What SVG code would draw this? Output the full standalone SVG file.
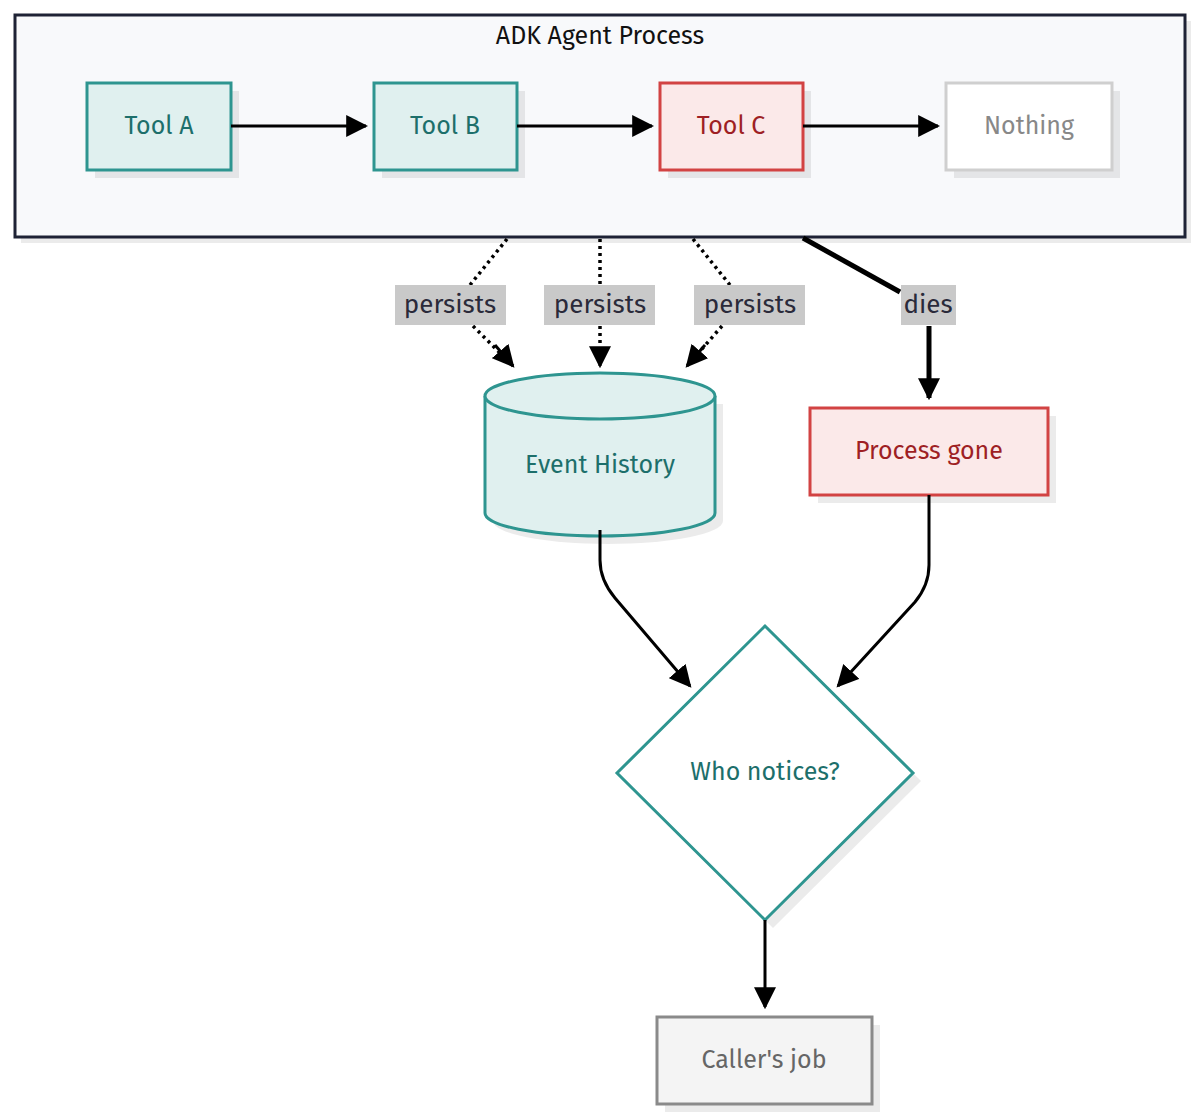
<svg xmlns="http://www.w3.org/2000/svg" width="1200" height="1120" viewBox="0 0 1200 1120">
<defs>
<marker id="ah" viewBox="0 0 10 10" refX="9" refY="5" markerWidth="6" markerHeight="6" markerUnits="userSpaceOnUse" orient="auto"><path d="M0,0 L10,5 L0,10 z" fill="#000"/></marker>
<marker id="ah2" viewBox="0 0 10 10" refX="9" refY="5" markerWidth="22" markerHeight="22" markerUnits="userSpaceOnUse" orient="auto"><path d="M0,0 L10,5 L0,10 z" fill="#000"/></marker>
</defs>
<style>
text{font-family:"Fira Sans","Noto Sans","DejaVu Sans",sans-serif;text-anchor:middle;dominant-baseline:central}
.sh{fill:#000;opacity:0.08}
.teal{fill:#e0f0ef;stroke:#2e9590;stroke-width:3}
.tt{fill:#1d6f6b;font-size:25px}
.red{fill:#fbe9e9;stroke:#d24343;stroke-width:3}
.rt{fill:#9e1f24;font-size:25px}
.gray{fill:#fff;stroke:#cfcfcf;stroke-width:3}
.lbl{fill:#c9c9c9}
.lt{fill:#2a2a3a;font-size:26px}
.c{fill:none;stroke:#000;stroke-width:3}
.d{fill:none;stroke:#000;stroke-width:3.5;stroke-dasharray:3 4}
</style>
<rect width="1200" height="1120" fill="#fff"/>
<g id="container">
<rect x="21" y="21" width="1170" height="222" class="sh"/>
<rect x="15" y="15" width="1170" height="222" fill="#f8f9fb" stroke="#1e2235" stroke-width="3"/>
<text x="600" y="36" style="fill:#111;font-size:25px">ADK Agent Process</text>
</g>
<g id="toolA"><rect x="95" y="91" width="144" height="87" class="sh"/><rect x="87" y="83" width="144" height="87" class="teal"/><text x="159" y="126" class="tt">Tool A</text></g>
<g id="toolB"><rect x="382" y="91" width="143" height="87" class="sh"/><rect x="374" y="83" width="143" height="87" class="teal"/><text x="445" y="126" class="tt">Tool B</text></g>
<g id="toolC"><rect x="668" y="91" width="143" height="87" class="sh"/><rect x="660" y="83" width="143" height="87" class="red"/><text x="731" y="126" class="rt">Tool C</text></g>
<g id="nothing"><rect x="954" y="91" width="166" height="87" class="sh"/><rect x="946" y="83" width="166" height="87" class="gray"/><text x="1029" y="126" style="fill:#888;font-size:25px">Nothing</text></g>
<g id="eventHistory">
<path d="M493,404 v117 a115,23 0 0 0 230,0 v-117" class="sh"/>
<path d="M485,396 v117 a115,23 0 0 0 230,0 v-117 a115,23 0 0 0 -230,0 z" class="teal"/>
<path d="M485,396 a115,23 0 0 0 230,0" class="teal" fill="none"/>
<text x="600" y="465" class="tt">Event History</text>
</g>
<g id="processGone"><rect x="818" y="416" width="238" height="87" class="sh"/><rect x="810" y="408" width="238" height="87" class="red"/><text x="929" y="451" class="rt">Process gone</text></g>
<g id="whoNotices"><path d="M773,634 L921,781 L773,928 L625,781 z" class="sh"/><path d="M765,626 L913,773 L765,920 L617,773 z" fill="#fff" stroke="#2e9590" stroke-width="3"/><text x="765" y="772" class="tt">Who notices?</text></g>
<g id="callersJob"><rect x="665" y="1025" width="215" height="87" class="sh"/><rect x="657" y="1017" width="215" height="87" fill="#f4f4f4" stroke="#8a8a8a" stroke-width="3"/><text x="764" y="1060" style="fill:#666;font-size:25px">Caller's job</text></g>
<g id="connectors">
<path d="M231,126 H366" class="c" marker-end="url(#ah2)"/>
<path d="M517,126 H652" class="c" marker-end="url(#ah2)"/>
<path d="M803,126 H938" class="c" marker-end="url(#ah2)"/>
<path d="M507,239 L470,285 M473,326 L513,366" class="d"/>
<path d="M600,239 V285 M600,326 V366" class="d"/>
<path d="M693,239 L730,285 M722,326 L687,366" class="d"/>
<path d="M495,345 L513,366" class="c" marker-end="url(#ah2)" stroke="none"/>
<path d="M600,350 V366" class="c" marker-end="url(#ah2)" stroke="none"/>
<path d="M705,345 L687,366" class="c" marker-end="url(#ah2)" stroke="none"/>
<path d="M803,238 L900,292" fill="none" stroke="#000" stroke-width="5"/>
<path d="M929,326 V398" fill="none" stroke="#000" stroke-width="5" marker-end="url(#ah2)"/>
<path d="M600,530 V560 Q600,580 615,598 L690,686" class="c" marker-end="url(#ah2)"/>
<path d="M929,495 V565 Q929,585 915,602 L838,686" class="c" marker-end="url(#ah2)"/>
<path d="M765,920 V1007" class="c" marker-end="url(#ah2)"/>
<rect x="395" y="285" width="111" height="40" class="lbl"/><text x="450" y="304" class="lt">persists</text>
<rect x="544" y="285" width="111" height="40" class="lbl"/><text x="600" y="304" class="lt">persists</text>
<rect x="694" y="285" width="111" height="40" class="lbl"/><text x="750" y="304" class="lt">persists</text>
<rect x="901" y="285" width="55" height="40" class="lbl"/><text x="928" y="304" class="lt">dies</text>
</g>
</svg>
